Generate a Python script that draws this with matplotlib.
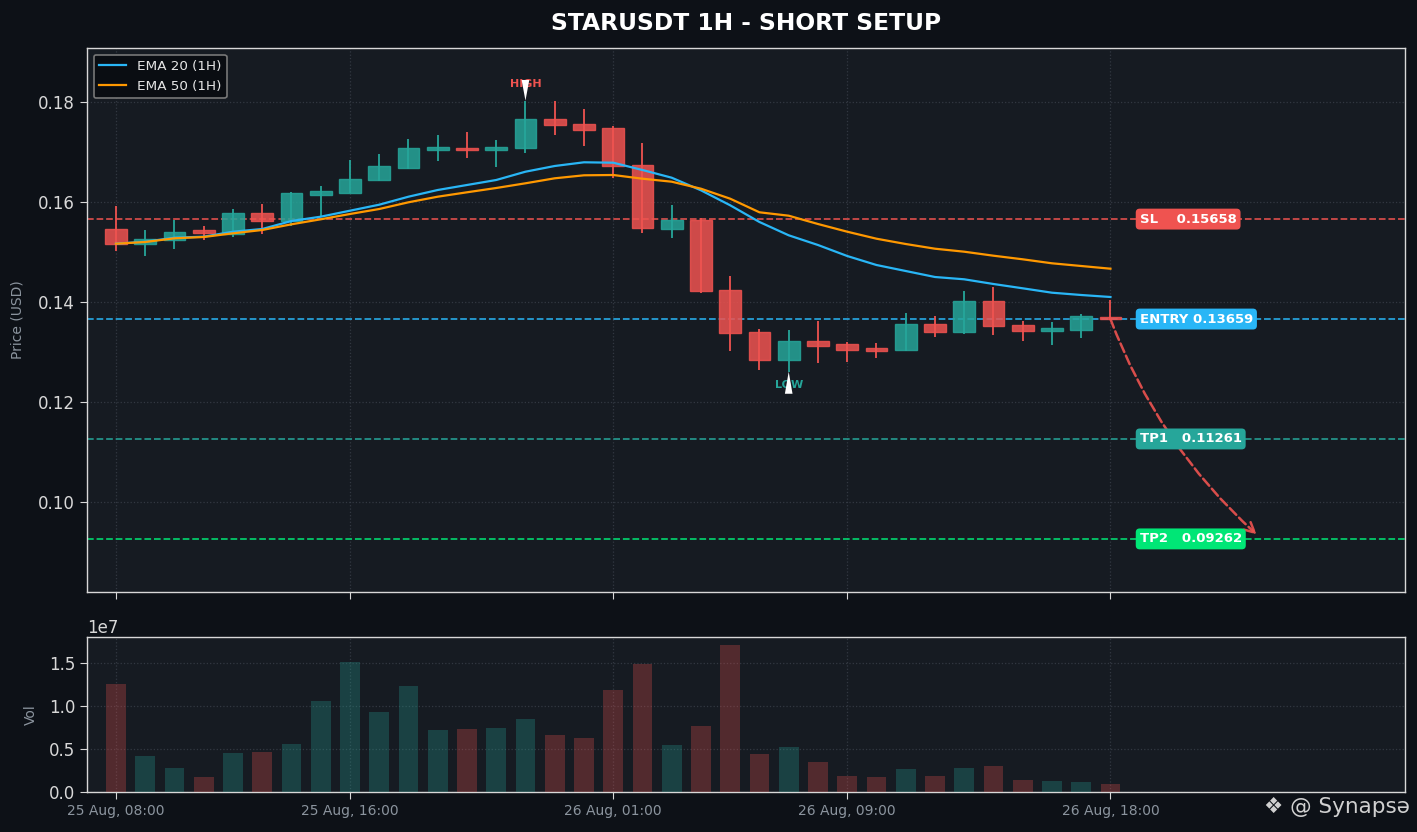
import matplotlib
matplotlib.use("Agg")
import matplotlib.pyplot as plt
import numpy as np

# ---------------- data ----------------
tick_pos = [0, 8, 17, 25, 34]
tick_labels = ["25 Aug, 08:00", "25 Aug, 16:00", "26 Aug, 01:00", "26 Aug, 09:00", "26 Aug, 18:00"]

opens = [0.15454, 0.15160, 0.15234, 0.15434, 0.15354, 0.15774, 0.15626, 0.16146, 0.16186, 0.16446,
         0.16686, 0.17046, 0.17080, 0.17034, 0.17074, 0.17654, 0.17560, 0.17474, 0.16734, 0.15454,
         0.15634, 0.14234, 0.13394, 0.12834, 0.13220, 0.13160, 0.13080, 0.13046, 0.13554, 0.13394,
         0.14014, 0.13540, 0.13414, 0.13446, 0.13690]
closes = [0.15160, 0.15254, 0.15406, 0.15374, 0.15774, 0.15614, 0.16174, 0.16220, 0.16460, 0.16714,
          0.17074, 0.17094, 0.17034, 0.17094, 0.17654, 0.17534, 0.17446, 0.16726, 0.15474, 0.15640,
          0.14214, 0.13374, 0.12834, 0.13214, 0.13126, 0.13034, 0.13026, 0.13560, 0.13394, 0.14014,
          0.13514, 0.13414, 0.13474, 0.13714, 0.13659]
highs = [0.15920, 0.15440, 0.15640, 0.15520, 0.15860, 0.15960, 0.16200, 0.16320, 0.16840, 0.16960,
         0.17260, 0.17340, 0.17400, 0.17240, 0.18026, 0.18020, 0.17860, 0.17520, 0.17180, 0.15940,
         0.15686, 0.14520, 0.13460, 0.13440, 0.13620, 0.13200, 0.13180, 0.13780, 0.13720, 0.14220,
         0.14306, 0.13620, 0.13594, 0.13760, 0.14040]
lows = [0.15026, 0.14930, 0.15060, 0.15240, 0.15310, 0.15360, 0.15526, 0.15706, 0.16180, 0.16426,
        0.16666, 0.16826, 0.16886, 0.16706, 0.16986, 0.17340, 0.17120, 0.16486, 0.15386, 0.15286,
        0.14186, 0.13026, 0.12646, 0.12606, 0.12786, 0.12800, 0.12886, 0.13026, 0.13306, 0.13366,
        0.13346, 0.13220, 0.13140, 0.13280, 0.13640]
volumes = [1.256e7, 0.419e7, 0.279e7, 0.174e7, 0.453e7, 0.465e7, 0.558e7, 1.058e7, 1.512e7, 0.930e7,
           1.233e7, 0.721e7, 0.733e7, 0.744e7, 0.849e7, 0.663e7, 0.628e7, 1.186e7, 1.488e7, 0.547e7,
           0.767e7, 1.709e7, 0.442e7, 0.523e7, 0.349e7, 0.186e7, 0.174e7, 0.267e7, 0.186e7, 0.279e7,
           0.302e7, 0.140e7, 0.128e7, 0.116e7, 0.093e7]
ema20 = [0.15166, 0.15206, 0.15286, 0.15306, 0.15406, 0.15460, 0.15620, 0.15706, 0.15826, 0.15946,
         0.16106, 0.16240, 0.16340, 0.16440, 0.16606, 0.16720, 0.16794, 0.16786, 0.16640, 0.16486,
         0.16234, 0.15934, 0.15600, 0.15334, 0.15140, 0.14920, 0.14740, 0.14620, 0.14500, 0.14454,
         0.14360, 0.14274, 0.14186, 0.14140, 0.14100]
ema50 = [0.15166, 0.15200, 0.15274, 0.15300, 0.15374, 0.15440, 0.15554, 0.15654, 0.15760, 0.15860,
         0.15994, 0.16106, 0.16194, 0.16280, 0.16374, 0.16474, 0.16534, 0.16540, 0.16466, 0.16406,
         0.16266, 0.16066, 0.15794, 0.15726, 0.15560, 0.15406, 0.15266, 0.15160, 0.15066, 0.15006,
         0.14926, 0.14854, 0.14774, 0.14720, 0.14666]

level_names = ["SL", "ENTRY", "TP1", "TP2"]
level_prices = [0.15658, 0.13659, 0.11261, 0.09262]
level_colors = ["#ef5350", "#29b6f6", "#26a69a", "#00e676"]

high_idx, low_idx = 14, 23
target_idx = 39
target_price = 0.0935

# ---------------- style ----------------
FIG_BG = "#0d1117"
AX_BG = "#161b22"
GREEN = "#26a69a"
RED = "#ef5350"
SPINE = "#d8d8d8"
GRID = "#3a404a"
MUTED = "#8b949e"

plt.rcParams['font.family'] = ['DejaVu Sans']

fig = plt.figure(figsize=(14.17, 8.32), dpi=100, facecolor=FIG_BG)
ax = fig.add_axes([87/1417, 1-592/832, (1405-87)/1417, (592-48)/832])
axv = fig.add_axes([87/1417, 1-792/832, (1405-87)/1417, (792-637)/832], sharex=ax)

x = np.arange(len(opens))
o = np.array(opens); c = np.array(closes)
h = np.array(highs); l = np.array(lows)
up = c >= o
cols = np.where(up, GREEN, RED)

for a in (ax, axv):
    a.set_facecolor(AX_BG)
    for s in a.spines.values():
        s.set_color(SPINE)
        s.set_linewidth(1.0)
    a.grid(True, color=GRID, linestyle=':', linewidth=0.9, alpha=0.8)
    a.set_axisbelow(True)
    a.tick_params(colors=SPINE, labelsize=12, length=5)

# wicks
ax.vlines(x, l, h, colors=cols, linewidth=1.3, zorder=3)
# bodies
body_bottom = np.minimum(o, c)
body_h = np.maximum(np.abs(c - o), 0.0004)
ax.bar(x, body_h, bottom=body_bottom, width=0.74, color=cols, alpha=0.85,
       edgecolor=cols, linewidth=1.0, zorder=4)

# EMAs
ax.plot(x, ema20, color="#29b6f6", lw=1.6, label="EMA 20 (1H)", zorder=5)
ax.plot(x, ema50, color="#ff9800", lw=1.6, label="EMA 50 (1H)", zorder=5)

# levels
for name, price, col in zip(level_names, level_prices, level_colors):
    ax.axhline(price, color=col, linestyle='--', linewidth=1.3, alpha=0.85, zorder=2)
    ax.text(35.0, price, f"{name:<5} {price:.5f}", color="white", fontsize=9.5,
            fontweight='bold', va='center', ha='left', zorder=7,
            bbox=dict(boxstyle="round,pad=0.3", facecolor=col, edgecolor='none'))

# projected path
ax.annotate("", xy=(target_idx, target_price), xytext=(x[-1], level_prices[1]),
            arrowprops=dict(arrowstyle='->', color=RED, lw=1.8, linestyle='--',
                            connectionstyle='arc3,rad=0.12', alpha=0.9,
                            mutation_scale=18, shrinkA=0, shrinkB=0), zorder=6)

# HIGH / LOW markers
ax.text(high_idx, highs[high_idx] * 1.019, "HIGH", color=RED, fontsize=8, fontweight='bold',
        ha='center', va='center', zorder=6)
ax.annotate("", xy=(high_idx, highs[high_idx]), xytext=(high_idx, highs[high_idx] * 1.023),
            arrowprops=dict(arrowstyle='wedge,tail_width=0.55', color='white', lw=0,
                            shrinkA=0, shrinkB=0), zorder=7)
ax.text(low_idx, lows[low_idx] * 0.979, "LOW", color=GREEN, fontsize=8, fontweight='bold',
        ha='center', va='center', zorder=6)
ax.annotate("", xy=(low_idx, lows[low_idx]), xytext=(low_idx, lows[low_idx] * 0.965),
            arrowprops=dict(arrowstyle='wedge,tail_width=0.55', color='white', lw=0,
                            shrinkA=0, shrinkB=0), zorder=7)

ax.set_xlim(-0.99, 44.07)
ax.set_ylim(0.082, 0.1908)
ax.set_yticks([0.10, 0.12, 0.14, 0.16, 0.18])
ax.set_ylabel("Price (USD)", color=MUTED, fontsize=10, labelpad=10)
ax.tick_params(axis='x', labelbottom=False)

leg = ax.legend(loc='upper left', fontsize=9.7, facecolor="#0a0d12", edgecolor="#777777",
                framealpha=1.0, labelcolor="#e6e6e6")
leg.get_frame().set_linewidth(1.2)

# volume
axv.bar(x, volumes, width=0.68, color=cols, alpha=0.28, zorder=3)
axv.set_ylim(0, 1.802e7)
axv.set_ylabel("Vol", color=MUTED, fontsize=10, labelpad=8)
axv.set_xticks(tick_pos)
axv.set_xticklabels(tick_labels)
axv.tick_params(axis='x', labelcolor=MUTED, labelsize=10)
axv.yaxis.get_offset_text().set_color(SPINE)
axv.yaxis.get_offset_text().set_fontsize(12)

fig.text(746/1417, 1 - 23/832, "STARUSDT 1H - SHORT SETUP", color="white", fontsize=16.8,
         fontweight='bold', ha='center', va='center')
fig.text(1410/1417, 1 - 807/832, "\u2756 @ Synaps\u0259", color="#d0d0d0", fontsize=15.5,
         ha='right', va='center')

fig.savefig("out.png", dpi=100, facecolor=FIG_BG)
